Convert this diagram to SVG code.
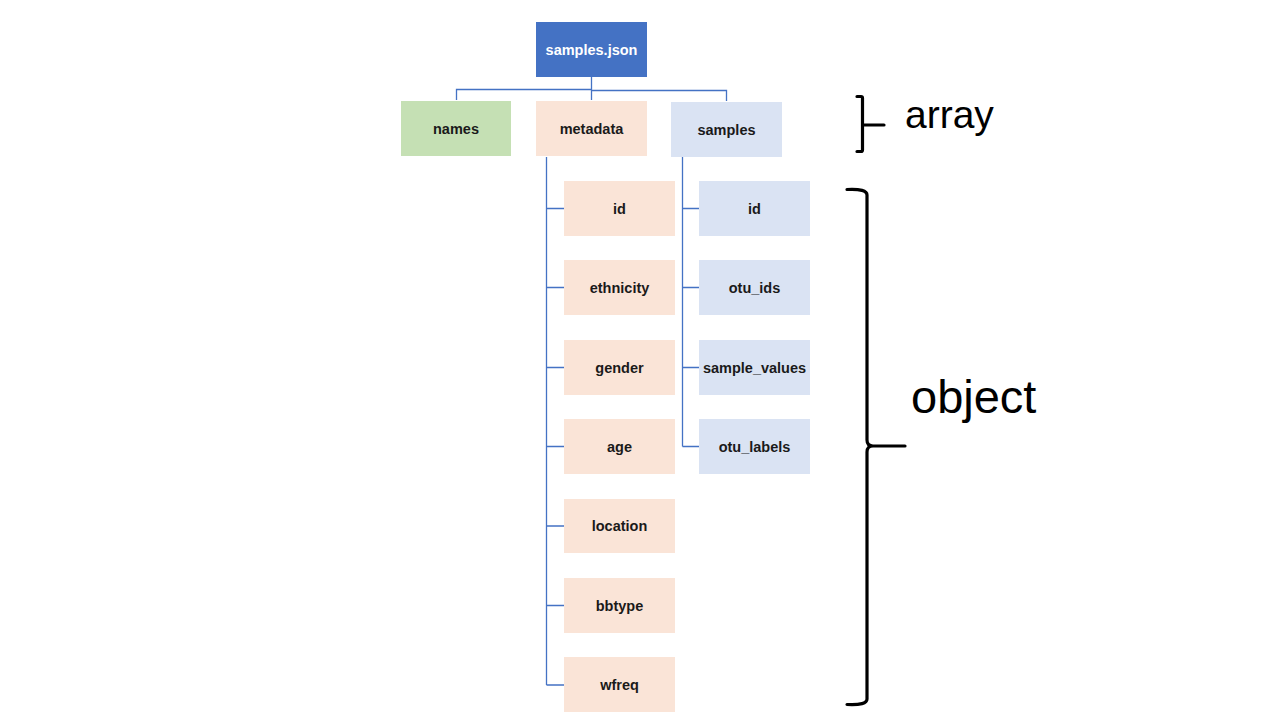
<svg xmlns="http://www.w3.org/2000/svg" width="1280" height="720" viewBox="0 0 1280 720">
<style>
.lbl{font-family:"Liberation Sans","DejaVu Sans",sans-serif;font-size:14.5px;font-weight:bold;fill:#1a1a1a;text-anchor:middle;dominant-baseline:central}
.root{fill:#4472C4}
.green{fill:#C5E0B4}
.orange{fill:#FAE4D7}
.blue{fill:#DAE3F3}
.conn{fill:none;stroke:#4472C4;stroke-width:1.3}
.brace{fill:none;stroke:#000;stroke-width:3.2;stroke-linecap:round;stroke-linejoin:round}
.big{font-family:"Liberation Sans","DejaVu Sans",sans-serif;fill:#000}
</style>
<rect width="1280" height="720" fill="#fff"/>
<g id="connectors">
<path class="conn" d="M591.5 77 V100 M456.5 100 V89.5 H591.5 M591.5 90.5 H726.5 V101"/>
<path class="conn" d="M546.5 157 V685 M546.5 208.5 H564 M546.5 287.5 H564 M546.5 367.5 H564 M546.5 446.5 H564 M546.5 526 H564 M546.5 605.5 H564 M546.5 685 H564"/>
<path class="conn" d="M682.5 157 V446.5 M682.5 208.5 H699 M682.5 287.5 H699 M682.5 367.5 H699 M682.5 446.5 H699"/>
</g>
<g id="samples-json"><rect class="root" x="536" y="22" width="111" height="55"/><text class="lbl" x="591.5" y="49.5" style="fill:#fff">samples.json</text></g>
<g id="names"><rect class="green" x="401" y="101" width="110" height="55"/><text class="lbl" x="456" y="128.5">names</text></g>
<g id="metadata"><rect class="orange" x="536" y="101" width="111" height="55"/><text class="lbl" x="591.5" y="128.5">metadata</text></g>
<g id="samples"><rect class="blue" x="671" y="102" width="111" height="55"/><text class="lbl" x="726.5" y="129.5">samples</text></g>
<g id="m-id"><rect class="orange" x="564" y="181" width="111" height="55"/><text class="lbl" x="619.5" y="208.5">id</text></g>
<g id="m-ethnicity"><rect class="orange" x="564" y="260" width="111" height="55"/><text class="lbl" x="619.5" y="287.5">ethnicity</text></g>
<g id="m-gender"><rect class="orange" x="564" y="340" width="111" height="55"/><text class="lbl" x="619.5" y="367.5">gender</text></g>
<g id="m-age"><rect class="orange" x="564" y="419" width="111" height="55"/><text class="lbl" x="619.5" y="446.5">age</text></g>
<g id="m-location"><rect class="orange" x="564" y="499" width="111" height="54"/><text class="lbl" x="619.5" y="526">location</text></g>
<g id="m-bbtype"><rect class="orange" x="564" y="578" width="111" height="55"/><text class="lbl" x="619.5" y="605.5">bbtype</text></g>
<g id="m-wfreq"><rect class="orange" x="564" y="657" width="111" height="55"/><text class="lbl" x="619.5" y="684.5">wfreq</text></g>
<g id="s-id"><rect class="blue" x="699" y="181" width="111" height="55"/><text class="lbl" x="754.5" y="208.5">id</text></g>
<g id="s-otu_ids"><rect class="blue" x="699" y="260" width="111" height="55"/><text class="lbl" x="754.5" y="287.5">otu_ids</text></g>
<g id="s-sample_values"><rect class="blue" x="699" y="340" width="111" height="55"/><text class="lbl" x="754.5" y="367.5">sample_values</text></g>
<g id="s-otu_labels"><rect class="blue" x="699" y="419" width="111" height="55"/><text class="lbl" x="754.5" y="446.5">otu_labels</text></g>
<g id="array-brace">
<path class="brace" d="M857 96.5 H861 Q862.5 96.5 862.5 98 V150 Q862.5 151.5 861 151.5 H857 M862.5 125 H884"/>
<text class="big" x="905" y="128" font-size="39">array</text>
</g>
<g id="object-brace">
<path class="brace" d="M847 189.5 Q867 188.5 867 195 V440 Q867 446 873 446 H905 M873 446 Q867 446 867 452 V699 Q867 705.5 847 704.5"/>
<text class="big" x="911" y="413" font-size="47">object</text>
</g>
</svg>
